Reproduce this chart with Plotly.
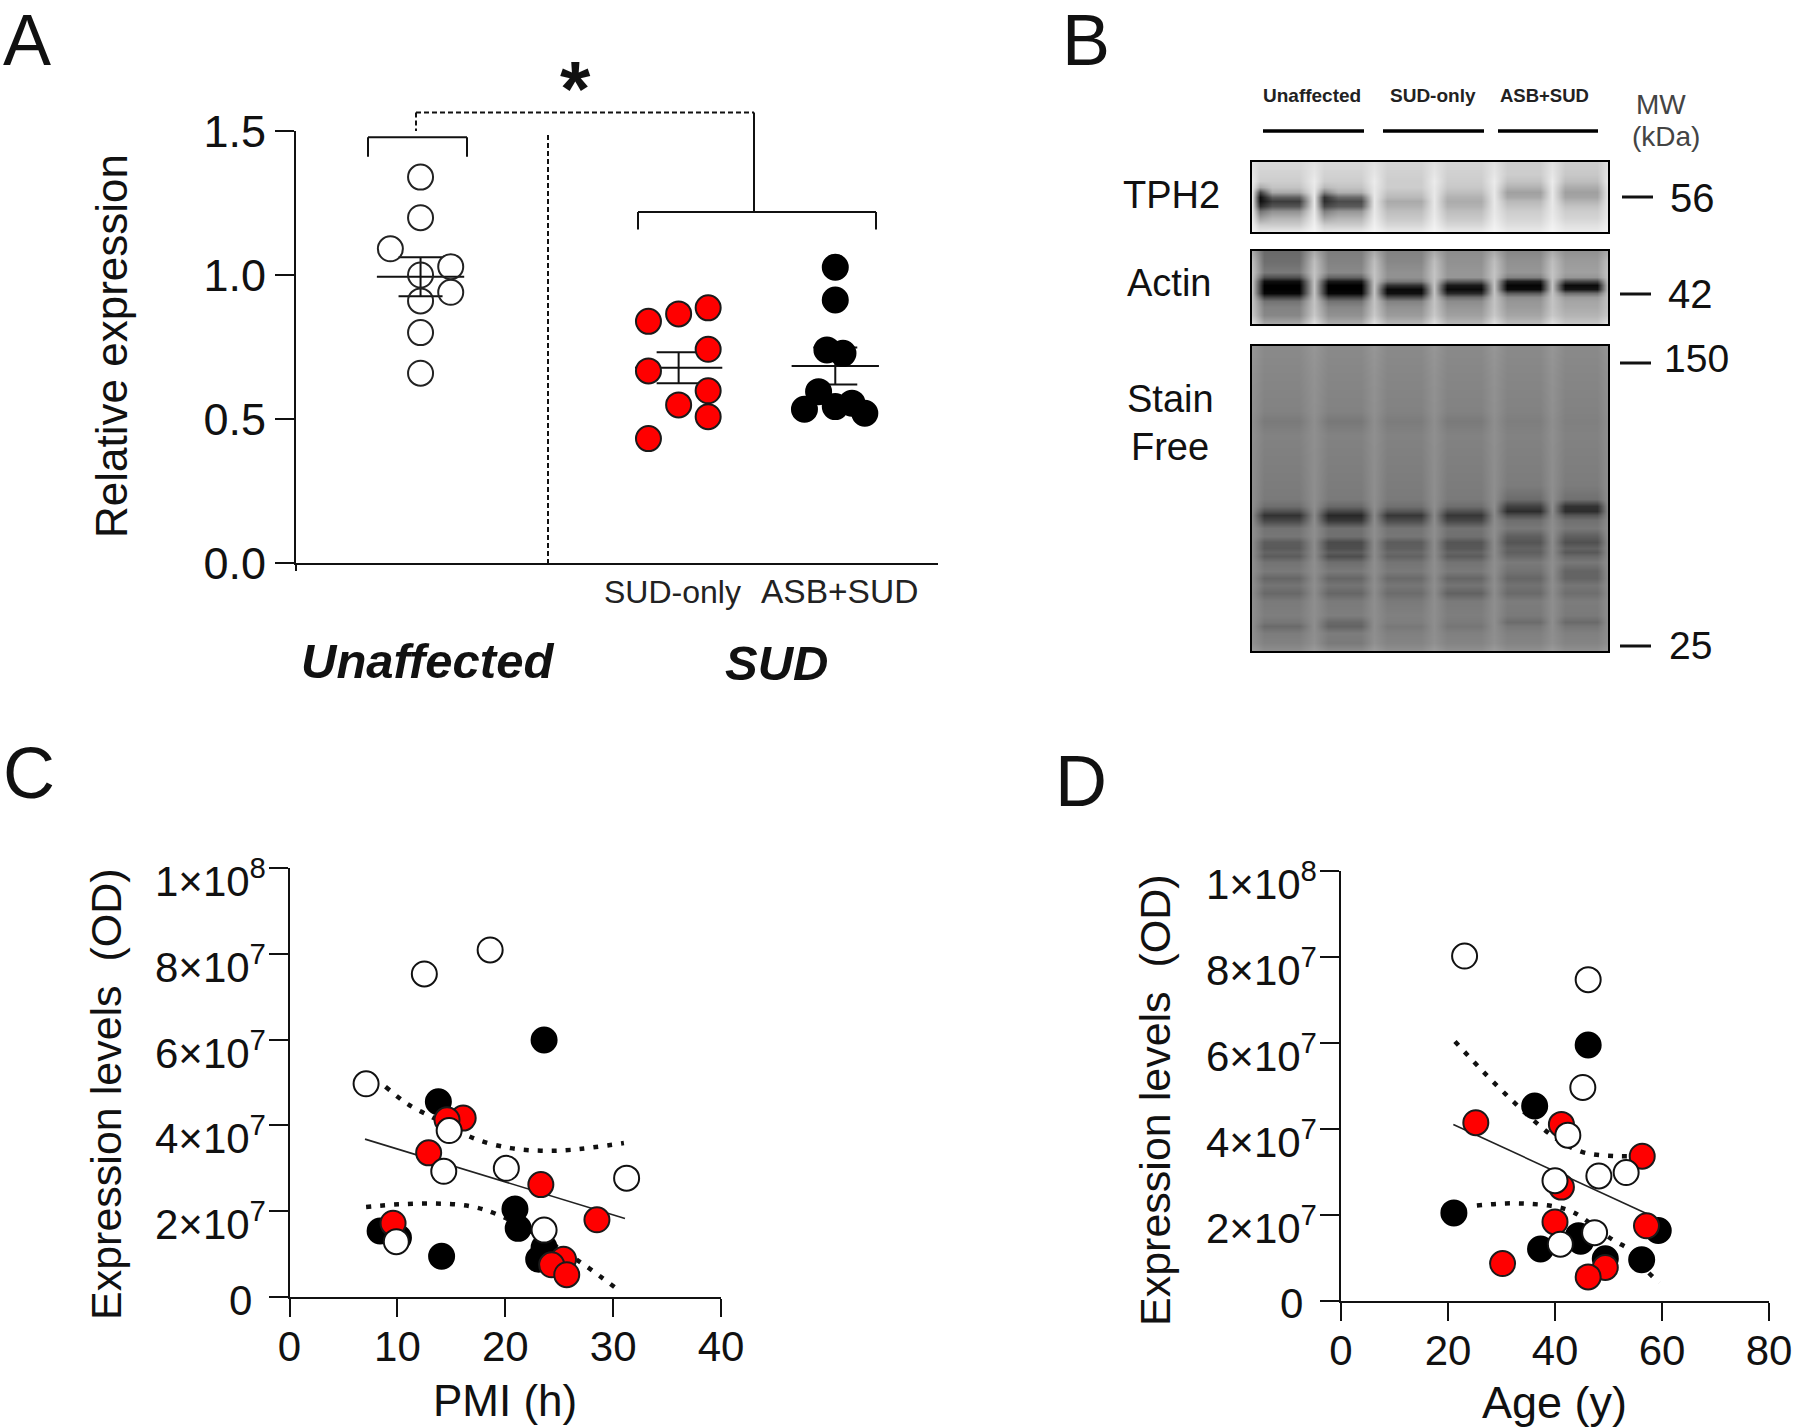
import plotly.graph_objects as go

W, H = 1800, 1427
FONT = "Liberation Sans"
INK = "#111111"

# ---------- Panel A ----------
a_ticks = [0.0, 0.5, 1.0, 1.5]
a_unaff_x = [1.94, 1.94, 1.47, 2.41, 1.94, 2.41, 1.94, 1.94, 1.94]
a_unaff_y = [1.340, 1.199, 1.091, 1.029, 1.000, 0.940, 0.910, 0.800, 0.659]
a_sud_x = [5.49, 5.96, 6.42, 6.42, 5.49, 6.42, 5.96, 6.42, 5.49]
a_sud_y = [0.839, 0.865, 0.886, 0.742, 0.667, 0.598, 0.549, 0.508, 0.432]
a_asb_x = [8.40, 8.40, 8.27, 8.52, 8.14, 7.92, 8.40, 8.66, 8.86]
a_asb_y = [1.027, 0.913, 0.740, 0.728, 0.595, 0.534, 0.543, 0.555, 0.520]
a_mean_x = [1.94, 5.96, 8.40]
a_mean_y = [0.994, 0.678, 0.684]
a_sem = [0.068, 0.054, 0.064]

# ---------- Panel C ----------
c_white_x = [12.5, 18.6, 7.1, 14.8, 14.3, 20.1, 31.25, 23.6, 9.9]
c_white_y = [7.53e7, 8.09e7, 4.97e7, 3.88e7, 2.93e7, 3.00e7, 2.77e7, 1.56e7, 1.29e7]
c_red_x = [16.1, 14.6, 12.9, 23.3, 28.5, 9.6, 25.4, 24.3, 25.7]
c_red_y = [4.17e7, 4.13e7, 3.36e7, 2.62e7, 1.80e7, 1.72e7, 0.88e7, 0.75e7, 0.52e7]
c_black_x = [23.6, 13.8, 20.9, 21.2, 8.4, 10.1, 14.1, 23.1, 23.6]
c_black_y = [5.99e7, 4.55e7, 2.05e7, 1.60e7, 1.54e7, 1.38e7, 0.95e7, 0.88e7, 1.15e7]
c_fit_x = [7.0, 31.1]
c_fit_y = [3.68e7, 1.83e7]
c_up_x = [8.9, 11.0, 13.4, 15.7, 17.6, 20.5, 23.3, 26.1, 31.0]
c_up_y = [4.90e7, 4.49e7, 4.17e7, 3.86e7, 3.65e7, 3.47e7, 3.41e7, 3.43e7, 3.59e7]
c_lo_x = [7.1, 10.1, 13.4, 16.7, 19.3, 22.8, 25.7, 27.6, 30.4]
c_lo_y = [2.10e7, 2.16e7, 2.18e7, 2.12e7, 1.92e7, 1.47e7, 1.02e7, 0.70e7, 0.18e7]

# ---------- Panel D ----------
d_white_x = [23.1, 46.2, 45.2, 42.4, 40.0, 48.2, 53.3, 47.4, 41.0]
d_white_y = [8.02e7, 7.47e7, 4.96e7, 3.85e7, 2.79e7, 2.90e7, 2.98e7, 1.58e7, 1.31e7]
d_red_x = [25.2, 41.2, 56.3, 41.2, 40.0, 57.1, 30.2, 49.4, 46.2]
d_red_y = [4.14e7, 4.10e7, 3.36e7, 2.64e7, 1.83e7, 1.74e7, 0.86e7, 0.77e7, 0.55e7]
d_black_x = [46.2, 36.2, 21.1, 59.3, 44.4, 44.8, 37.3, 56.2, 49.4]
d_black_y = [5.95e7, 4.53e7, 2.04e7, 1.63e7, 1.51e7, 1.38e7, 1.20e7, 0.95e7, 0.97e7]
d_fit_x = [21.0, 58.2]
d_fit_y = [4.10e7, 1.96e7]
d_up_x = [21.3, 25.8, 30.8, 36.2, 40.8, 45.3, 51.6, 58.4]
d_up_y = [6.03e7, 5.43e7, 4.80e7, 4.17e7, 3.72e7, 3.45e7, 3.36e7, 3.38e7]
d_lo_x = [25.4, 30.8, 35.3, 39.9, 43.5, 50.7, 54.3, 57.1, 59.5]
d_lo_y = [2.21e7, 2.26e7, 2.25e7, 2.19e7, 2.05e7, 1.42e7, 1.15e7, 0.70e7, 0.41e7]

sci_vals = [0, 2e7, 4e7, 6e7, 8e7, 1e8]
sci_text = ["0", "2×10<sup>7</sup>", "4×10<sup>7</sup>", "6×10<sup>7</sup>",
            "8×10<sup>7</sup>", "1×10<sup>8</sup>"]

# ---------- Panel B: blot grey levels ----------
# Each column of a blot takes one entry of a row; lane centres sit inset so bands fade toward the gaps.
lane_columns = [0, 12, 47, 62, 76, 110, 123, 136, 170, 183, 196, 230, 243, 256, 290, 302, 315, 347, 358]
lane_pattern = [6, 0, 0, 6, 1, 1, 6, 2, 2, 6, 3, 3, 6, 4, 4, 6, 5, 5, 6]

# TPH2 rows: lane 1 left, lane 1, lane 2 left, lane 2, lanes 3-6, gap
tph2_columns = [0, 8, 20, 47, 62, 72, 86, 110, 123, 136, 170, 183, 196, 230, 243, 256, 290, 302, 315, 347, 358]
tph2_pattern = [8, 0, 1, 1, 8, 2, 3, 3, 8, 4, 4, 8, 5, 5, 8, 6, 6, 8, 7, 7, 8]
tph2_rows = [0, 12, 20, 26, 31, 36, 41, 46, 51, 58, 66, 73]
tph2_grey = [
    [215, 215, 215, 215, 212, 212, 205, 205, 225],
    [210, 210, 210, 210, 208, 208, 205, 200, 230],
    [205, 205, 205, 205, 205, 205, 195, 190, 235],
    [170, 195, 185, 195, 205, 200, 178, 172, 232],
    [70, 170, 130, 175, 195, 190, 160, 160, 232],
    [15, 95, 50, 105, 185, 178, 168, 165, 232],
    [15, 60, 45, 75, 170, 172, 185, 180, 232],
    [45, 85, 70, 90, 178, 178, 195, 195, 232],
    [115, 145, 125, 150, 190, 190, 205, 205, 232],
    [160, 180, 165, 180, 200, 200, 212, 212, 235],
    [205, 205, 205, 205, 215, 215, 222, 225, 240],
    [232, 235, 232, 235, 235, 235, 235, 235, 245],
]
actin_rows = [0, 10, 22, 27, 31, 35, 39, 43, 47, 51, 58, 66, 75]
actin_grey = [
    [105, 125, 130, 140, 135, 145, 170],
    [110, 130, 135, 145, 145, 155, 190],
    [122, 137, 145, 150, 150, 160, 195],
    [80, 100, 145, 150, 130, 150, 195],
    [15, 25, 120, 90, 30, 70, 195],
    [0, 0, 50, 25, 5, 10, 195],
    [0, 0, 10, 10, 10, 20, 195],
    [5, 5, 15, 40, 90, 110, 195],
    [65, 65, 75, 110, 140, 155, 195],
    [115, 115, 130, 140, 150, 165, 195],
    [130, 135, 145, 150, 155, 170, 195],
    [135, 145, 155, 160, 165, 180, 200],
    [170, 175, 185, 185, 190, 200, 225],
]
stain_rows = [0, 30, 66, 76, 90, 115, 140, 155, 162, 167, 171, 176, 184, 192, 198, 204, 208,
              212, 218, 227, 234, 241, 249, 258, 272, 279, 283, 290, 300, 308]
stain_grey = [
    [138, 138, 138, 138, 138, 138, 150],
    [134, 134, 134, 134, 134, 134, 146],
    [130, 130, 130, 130, 130, 130, 144],
    [122, 120, 124, 122, 126, 128, 142],
    [130, 130, 130, 130, 130, 130, 143],
    [127, 127, 127, 127, 127, 127, 142],
    [124, 124, 124, 124, 124, 124, 142],
    [122, 122, 122, 122, 108, 112, 142],
    [110, 105, 112, 110, 65, 50, 142],
    [80, 70, 85, 80, 45, 45, 140],
    [50, 40, 55, 55, 80, 85, 138],
    [70, 55, 75, 70, 110, 112, 140],
    [115, 112, 116, 114, 120, 120, 142],
    [118, 112, 118, 112, 95, 95, 142],
    [92, 75, 92, 85, 85, 80, 140],
    [90, 78, 95, 88, 98, 98, 140],
    [100, 92, 105, 100, 95, 88, 140],
    [92, 78, 98, 92, 105, 105, 140],
    [115, 110, 116, 115, 122, 120, 142],
    [122, 122, 122, 122, 114, 100, 142],
    [102, 102, 106, 102, 102, 100, 140],
    [116, 116, 118, 116, 114, 118, 142],
    [104, 102, 108, 98, 106, 110, 140],
    [122, 122, 122, 122, 124, 124, 142],
    [126, 126, 128, 126, 122, 122, 142],
    [118, 105, 126, 122, 108, 106, 142],
    [106, 100, 120, 118, 120, 118, 142],
    [124, 124, 128, 128, 128, 128, 142],
    [130, 122, 132, 132, 132, 132, 144],
    [142, 142, 144, 144, 144, 144, 156],
]


def expand(rows, pattern):
    return [[r[i] for i in pattern] for r in rows]


def px(x):
    return x / W


def py(y):
    return 1 - y / H


def dx(a, b):
    return [px(a), px(b)]


def dy(top, bottom):
    return [py(bottom), py(top)]


fig = go.Figure()


def dots(x, y, fill, xa, ya, name, edge="#1a1a1a", size=25, lw=2):
    fig.add_trace(go.Scatter(x=x, y=y, mode="markers", name=name, xaxis=xa, yaxis=ya,
                             cliponaxis=False, showlegend=False, hoverinfo="skip",
                             marker=dict(size=size, color=fill, line=dict(color=edge, width=lw))))


def curve(x, y, xa, ya, name, dash=None, width=1.6, shape="linear", color="#222222"):
    fig.add_trace(go.Scatter(x=x, y=y, mode="lines", name=name, xaxis=xa, yaxis=ya,
                             cliponaxis=False, showlegend=False, hoverinfo="skip",
                             line=dict(color=color, width=width, dash=dash, shape=shape)))


# Panel A: mean/SEM lies beneath the dots
fig.add_trace(go.Scatter(x=a_mean_x, y=a_mean_y, mode="markers", xaxis="x", yaxis="y",
                         name="mean ± SEM", showlegend=False, hoverinfo="skip",
                         marker=dict(size=1, color="rgba(0,0,0,0)"),
                         error_y=dict(type="data", array=a_sem, color="#111111", thickness=2, width=22),
                         error_x=dict(type="constant", value=0.68, color="#111111", thickness=2, width=0)))
dots(a_unaff_x, a_unaff_y, "rgba(0,0,0,0)", "x", "y", "Unaffected", edge="#222222")
dots(a_sud_x, a_sud_y, "#ff0000", "x", "y", "SUD-only")
dots(a_asb_x, a_asb_y, "#000000", "x", "y", "ASB+SUD", edge="#000000")

# Panels C and D
for (xa, ya, fx, fy, ux, uy, lx, ly, bx, by, rx, ry, wx, wy) in [
    ("x2", "y2", c_fit_x, c_fit_y, c_up_x, c_up_y, c_lo_x, c_lo_y, c_black_x, c_black_y, c_red_x, c_red_y, c_white_x, c_white_y),
    ("x3", "y3", d_fit_x, d_fit_y, d_up_x, d_up_y, d_lo_x, d_lo_y, d_black_x, d_black_y, d_red_x, d_red_y, d_white_x, d_white_y),
]:
    curve(fx, fy, xa, ya, "fit")
    curve(ux, uy, xa, ya, "upper CI", dash="5px,9px", width=4.5, shape="spline", color="#111111")
    curve(lx, ly, xa, ya, "lower CI", dash="5px,9px", width=4.5, shape="spline", color="#111111")
    dots(bx, by, "#000000", xa, ya, "ASB+SUD", edge="#000000")
    dots(rx, ry, "#ff0000", xa, ya, "SUD-only")
    dots(wx, wy, "#ffffff", xa, ya, "Unaffected", edge="#111111")

# Panel B blots
for xa, ya, cols, pat, rows, grey in [("x4", "y4", tph2_columns, tph2_pattern, tph2_rows, tph2_grey),
                                      ("x5", "y5", lane_columns, lane_pattern, actin_rows, actin_grey),
                                      ("x6", "y6", lane_columns, lane_pattern, stain_rows, stain_grey)]:
    fig.add_trace(go.Heatmap(x=cols, y=rows, z=expand(grey, pat), xaxis=xa, yaxis=ya,
                             zmin=0, zmax=255, zsmooth="best", showscale=False, hoverinfo="skip",
                             colorscale=[[0, "#000000"], [1, "#ffffff"]]))

axis_line = dict(showline=True, linecolor=INK, linewidth=2, showgrid=False, zeroline=False,
                 ticks="outside", tickcolor=INK, tickwidth=2)
frame = dict(showline=True, mirror=True, linecolor="#000000", linewidth=2, showgrid=False,
             zeroline=False, showticklabels=False, ticks="")

layout = dict(
    width=W, height=H, margin=dict(l=0, r=0, t=0, b=0, autoexpand=False), autosize=False,
    paper_bgcolor="white", plot_bgcolor="rgba(0,0,0,0)", showlegend=False,
    font=dict(family=FONT, color=INK),
    xaxis=dict(axis_line, domain=dx(296, 938), range=[0, 10], tickvals=[0], ticktext=[""], ticklen=6, anchor="y"),
    yaxis=dict(axis_line, domain=dy(131, 563), range=[0, 1.5], tickvals=a_ticks,
               ticktext=["0.0", "0.5", "1.0", "1.5"], ticklen=19, tickfont=dict(size=45, family=FONT, color=INK),
               ticklabelstandoff=0, anchor="x"),
    xaxis2=dict(axis_line, domain=dx(289.5, 721), range=[0, 40], tickvals=[0, 10, 20, 30, 40], ticklen=18,
                tickfont=dict(size=42, family=FONT, color=INK), ticklabelstandoff=-6, anchor="y2"),
    yaxis2=dict(axis_line, domain=dy(868, 1297), range=[0, 1e8], tickvals=sci_vals, showticklabels=False,
                ticklen=19, anchor="x2"),
    xaxis3=dict(axis_line, domain=dx(1341, 1769), range=[0, 80], tickvals=[0, 20, 40, 60, 80], ticklen=18,
                tickfont=dict(size=42, family=FONT, color=INK), ticklabelstandoff=-6, anchor="y3"),
    yaxis3=dict(axis_line, domain=dy(871, 1300.5), range=[0, 1e8], tickvals=sci_vals, showticklabels=False,
                ticklen=19, anchor="x3"),
    xaxis4=dict(frame, domain=dx(1252, 1608), range=[0, 358], anchor="y4"),
    yaxis4=dict(frame, domain=dy(162, 232), range=[73, 0], anchor="x4"),
    xaxis5=dict(frame, domain=dx(1252, 1608), range=[0, 358], anchor="y5"),
    yaxis5=dict(frame, domain=dy(251, 324), range=[75, 0], anchor="x5"),
    xaxis6=dict(frame, domain=dx(1252, 1608), range=[0, 358], anchor="y6"),
    yaxis6=dict(frame, domain=dy(346, 651), range=[308, 0], anchor="x6"),
)
fig.update_layout(**layout)


# Value labels of the two scatter y axes sit below their ticks, as in the original
for xr, yr in [("x2", "y2"), ("x3", "y3")]:
    for v, t in zip(sci_vals, sci_text):
        fig.add_annotation(x=0, y=v, xref=xr, yref=yr, text=t, showarrow=False, xanchor="right",
                           yanchor="middle", xshift=-36 if v == 0 else -22, yshift=-3 if v == 0 else -10,
                           font=dict(size=42, family=FONT, color=INK))


def label(x, y, s, size, bold=False, italic=False, angle=0, color=INK):
    if bold:
        s = f"<b>{s}</b>"
    if italic:
        s = f"<i>{s}</i>"
    fig.add_annotation(x=px(x), y=py(y), xref="paper", yref="paper", text=s, showarrow=False,
                       xanchor="center", yanchor="middle", textangle=angle,
                       font=dict(size=size, family=FONT, color=color))


def seg(x0, y0, x1, y1, width=2, dash=None, color=INK):
    fig.add_shape(type="line", xref="paper", yref="paper", x0=px(x0), y0=py(y0), x1=px(x1), y1=py(y1),
                  line=dict(color=color, width=width, dash=dash))


# Panel letters
label(27, 40, "A", 72)
label(1086, 40, "B", 72)
label(29, 773, "C", 72)
label(1081, 781, "D", 72)

# Panel A annotations
label(112, 346, "Relative expression", 44, angle=-90)
label(672, 592, "SUD-only", 32, color="#222222")
label(839, 592, "ASB+SUD", 33.5, color="#222222")
label(427, 661, "Unaffected", 49, bold=True, italic=True)
label(776, 663, "SUD", 49, bold=True, italic=True)
label(575, 89, "*", 78, bold=True)

seg(548, 135, 548, 563, dash="5px,3px")
seg(416, 112.5, 754, 112.5, dash="5px,3px")
seg(416, 112.5, 416, 131, dash="5px,3px")
seg(754, 112.5, 754, 212)
seg(638, 212, 876, 212)
seg(638, 212, 638, 229.5)
seg(876, 212, 876, 229.5)
seg(368, 137.3, 467, 137.3)
seg(368, 137.3, 368, 156.7)
seg(467, 137.3, 467, 156.7)

# Panels C, D axis titles
label(106, 1094, "Expression levels  (OD)", 43, angle=-90)
label(505, 1400, "PMI (h)", 44)
label(1155, 1100, "Expression levels  (OD)", 43, angle=-90)
label(1554, 1402, "Age (y)", 45)

# Panel B annotations
label(1312, 95, "Unaffected", 19, bold=True, color="#222222")
label(1433, 95, "SUD-only", 19, bold=True, color="#222222")
label(1544, 95, "ASB+SUD", 18.5, bold=True, color="#222222")
seg(1263, 131, 1364, 131, width=3.5, color="#000000")
seg(1383, 131, 1484, 131, width=3.5, color="#000000")
seg(1498, 131, 1598, 131, width=3.5, color="#000000")
label(1661, 104, "MW", 28, color="#444444")
label(1666, 137, "(kDa)", 28, color="#444444")
label(1171, 195, "TPH2", 38)
label(1169, 283, "Actin", 38)
label(1170, 399, "Stain", 38)
label(1170, 447, "Free", 38)
seg(1622, 197, 1653, 197, width=3, color="#111111")
label(1692, 198, "56", 40)
seg(1620, 294, 1651, 294, width=3, color="#111111")
label(1690, 294, "42", 40)
seg(1620, 363, 1651, 363, width=3, color="#111111")
label(1696, 359, "150", 39)
seg(1620, 646, 1651, 646, width=3, color="#111111")
label(1690, 645, "25", 39)

fig.write_html("out.html", config={"displayModeBar": False},
               post_script="document.body.style.margin='0';document.body.style.overflow='hidden';")
